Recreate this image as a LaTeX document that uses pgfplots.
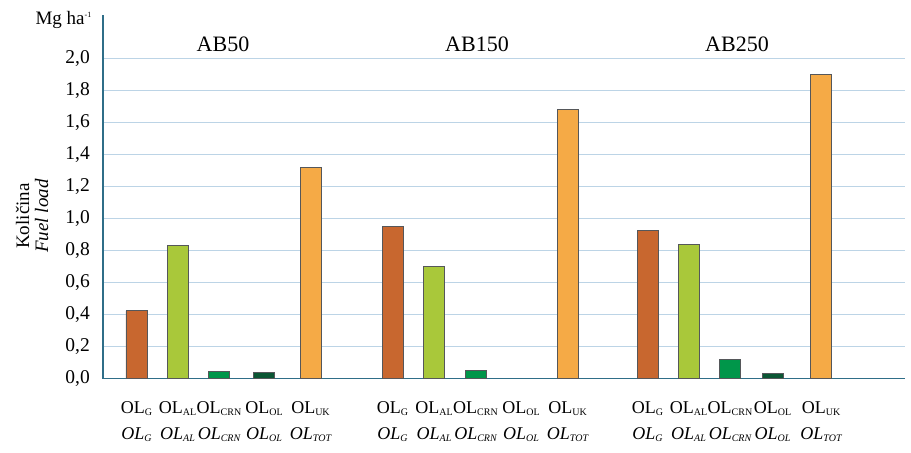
\documentclass[border=0pt]{standalone}
\usepackage{pgfplots}
\pgfplotsset{compat=1.18}
\usepackage{fontspec}
\setmainfont{Liberation Serif}
\definecolor{cG}{HTML}{C8672F}
\definecolor{cAL}{HTML}{A9C83A}
\definecolor{cCRN}{HTML}{00964A}
\definecolor{cOL}{HTML}{0B5634}
\definecolor{cUK}{HTML}{F5AA46}
\definecolor{axc}{HTML}{2F6E88}
\definecolor{gridc}{HTML}{BCD4E6}
\definecolor{edgec}{HTML}{55575A}
\newcommand{\sub}[1]{\raisebox{-0.25ex}{\fontsize{10bp}{10bp}\selectfont #1}}
\begin{document}
\begin{tikzpicture}
\begin{axis}[
  name=ax,
  scale only axis,
  width=802bp, height=363.5bp,
  xmin=103, xmax=905,
  ymin=0, ymax=2.2746,
  axis x line*=bottom, axis y line*=left,
  axis line style={axc, line width=1.4pt, -},
  major tick length=0pt,
  ytick={0,0.2,...,2.01},
  ymajorgrids, grid style={gridc, line width=0.9pt},
  /pgf/number format/assume math mode=true,
  /pgf/number format/use comma,
  /pgf/number format/fixed,
  /pgf/number format/fixed zerofill,
  /pgf/number format/precision=1,
  yticklabel style={anchor=east, inner sep=0pt, xshift=-13bp, font=\fontsize{19.5bp}{22bp}\selectfont},
  xtick={136.5,177.5,219,264,310.5,392.5,434,475.5,521,567.5,647.5,688.5,730,772.5,821},
  xticklabels={
    OL\sub{G}\\\textit{OL\sub{G}},
    OL\sub{AL}\\\textit{OL\sub{AL}},
    OL\sub{CRN}\\\textit{OL\sub{CRN}},
    OL\sub{OL}\\\textit{OL\sub{OL}},
    OL\sub{UK}\\\textit{OL\sub{TOT}},
    OL\sub{G}\\\textit{OL\sub{G}},
    OL\sub{AL}\\\textit{OL\sub{AL}},
    OL\sub{CRN}\\\textit{OL\sub{CRN}},
    OL\sub{OL}\\\textit{OL\sub{OL}},
    OL\sub{UK}\\\textit{OL\sub{TOT}},
    OL\sub{G}\\\textit{OL\sub{G}},
    OL\sub{AL}\\\textit{OL\sub{AL}},
    OL\sub{CRN}\\\textit{OL\sub{CRN}},
    OL\sub{OL}\\\textit{OL\sub{OL}},
    OL\sub{UK}\\\textit{OL\sub{TOT}}},
  xticklabel style={anchor=north, inner sep=0pt, yshift=-23bp, align=center, font=\fontsize{18bp}{26bp}\selectfont},
  ylabel={Količina\\\textit{Fuel load}},
  ylabel style={at={(rel axis cs:-0.0885,0.447)}, anchor=center, align=center, font=\fontsize{19bp}{19bp}\selectfont},
  ybar, bar width=21bp, bar shift=0pt,
  every axis plot/.append style={draw=edgec, line width=1pt},
  clip=false,
]
\addplot[fill=cG] coordinates {(136.5,0.424) (392.5,0.954) (647.5,0.928)};
\addplot[fill=cAL] coordinates {(177.5,0.83) (434,0.70) (688.5,0.84)};
\addplot[fill=cCRN] coordinates {(219,0.045) (475.5,0.049) (730,0.12)};
\addplot[fill=cOL] coordinates {(264,0.036) (772.5,0.03)};
\addplot[fill=cUK] coordinates {(310.5,1.32) (567.5,1.686) (821,1.90)};
\node[anchor=center, font=\fontsize{22bp}{22bp}\selectfont] at (axis cs:223,2.094) {AB50};
\node[anchor=center, font=\fontsize{22bp}{22bp}\selectfont] at (axis cs:477,2.094) {AB150};
\node[anchor=center, font=\fontsize{22bp}{22bp}\selectfont] at (axis cs:737,2.094) {AB250};
\node[anchor=east, inner sep=0pt, font=\fontsize{19bp}{19bp}\selectfont] at (axis cs:92,2.243) {Mg ha\textsuperscript{\fontsize{8bp}{8bp}\selectfont -1}};
\coordinate (bbl) at (axis cs:0,-0.46);
\coordinate (bbr) at (axis cs:911,2.3686);
\end{axis}
\pgfresetboundingbox
\path (bbl) rectangle (bbr);
\end{tikzpicture}
\end{document}
